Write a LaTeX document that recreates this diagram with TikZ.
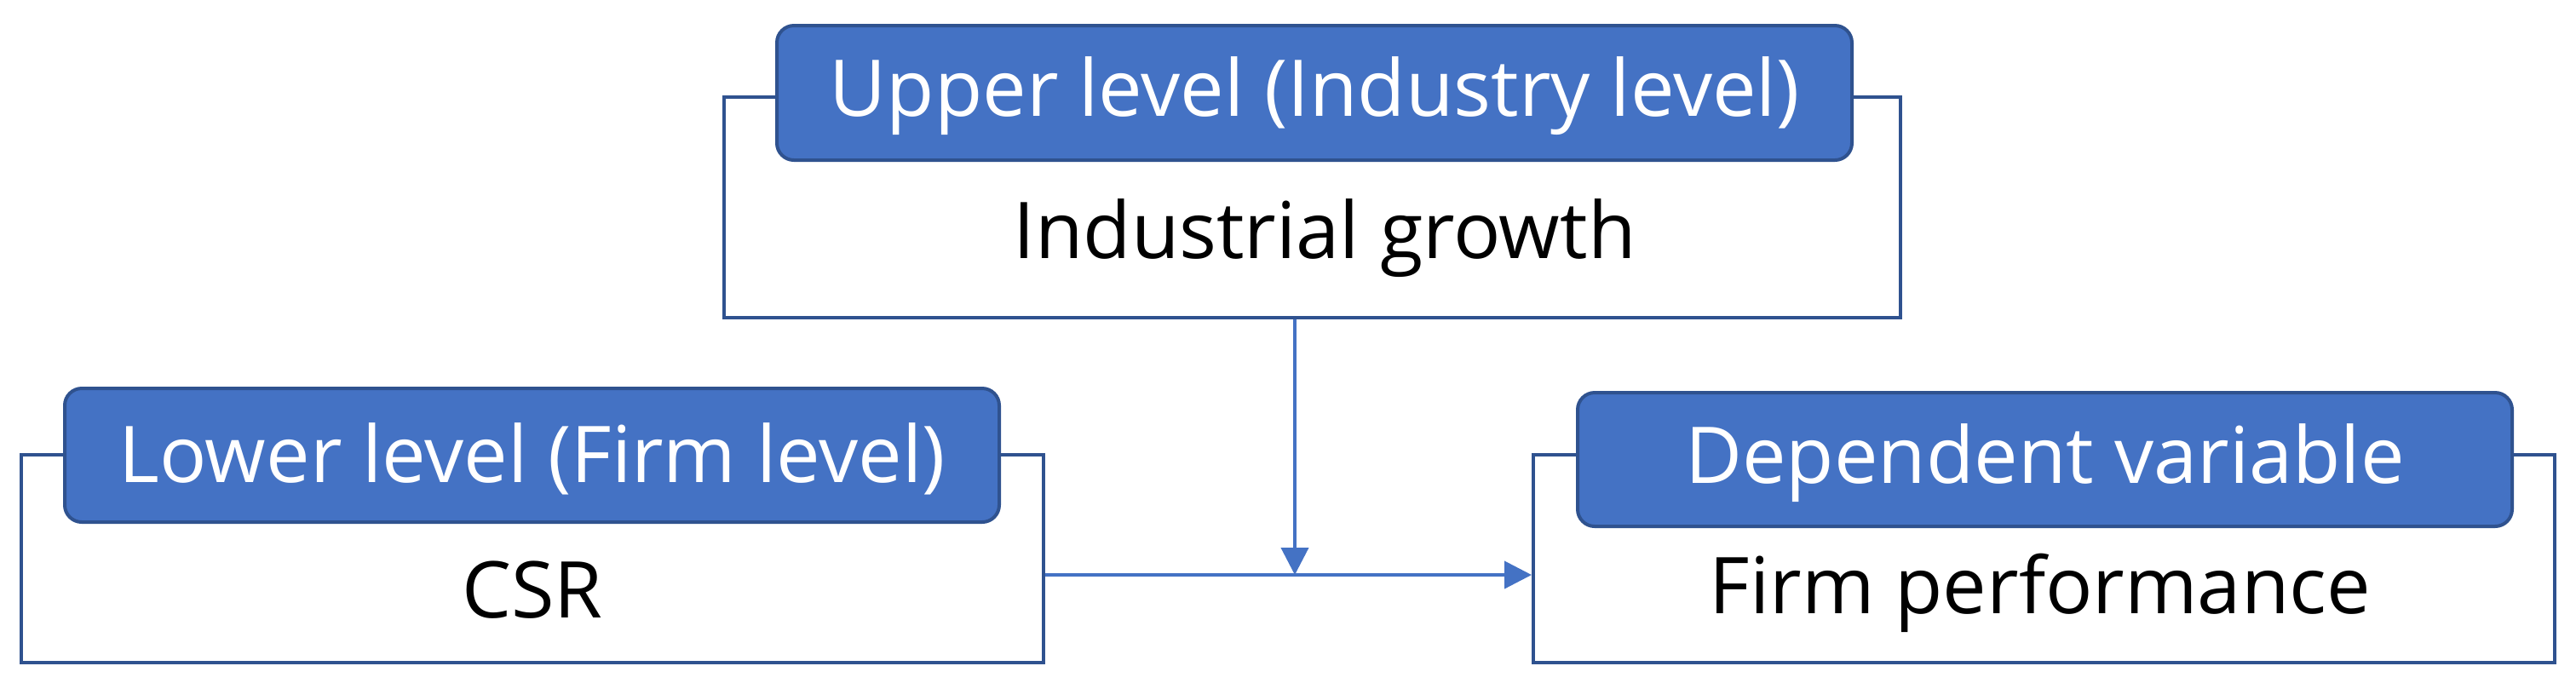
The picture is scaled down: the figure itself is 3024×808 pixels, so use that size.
\documentclass[tikz,border=0pt]{standalone}
\usepackage{fontspec}
\setmainfont{Open Sans}
\usetikzlibrary{fit,arrows.meta}
\definecolor{hdrblue}{HTML}{4472C4}
\definecolor{edgeblue}{HTML}{2F528F}
\tikzset{
  outerbox/.style={draw=edgeblue, line width=1pt, fill=white, inner sep=0pt},
  hdrbox/.style={draw=edgeblue, line width=1pt, fill=hdrblue, rounded corners=5pt, inner sep=0pt},
  hdrtext/.style={text=white, font=\fontsize{23}{27}\selectfont, inner sep=0pt},
  bodytext/.style={text=black, font=\fontsize{23}{27}\selectfont, inner sep=0pt},
  conn/.style={draw=hdrblue, line width=1pt, -{Triangle[length=8pt,width=8pt]}}
}
\begin{document}
\begin{tikzpicture}[x=0.25pt,y=-0.25pt]
\useasboundingbox (0,0) rectangle (3024,808);
% upper
\node[outerbox, fit={(850,114) (2231,373)}] (up) {};
\node[hdrbox, fit={(912,30) (2174,188)}] (uph) {};
\node[hdrtext] (upht) at ([yshift=-1pt]uph.center) {Upper level (Industry level)};
\node[bodytext] (upt) at (1555,280) {Industrial growth};
% lower left
\node[outerbox, fit={(25,534) (1225,778)}] (lo) {};
\node[hdrbox, fit={(76,456) (1173,613)}] (loh) {};
\node[hdrtext] (loht) at ([yshift=-1pt]loh.center) {Lower level (Firm level)};
\node[bodytext] (lot) at (625,693) {CSR};
% right
\node[outerbox, fit={(1800,534) (2999,778)}] (dv) {};
\node[hdrbox, fit={(1852,461) (2949,618)}] (dvh) {};
\node[hdrtext] (dvht) at ([yshift=-1pt]dvh.center) {Dependent variable};
\node[bodytext] (dvt) at (2395,696) {Firm performance};
% connectors
\coordinate (mid) at (1520,675);
\draw[conn] (lo.east |- mid) -- (dv.west |- mid);
\draw[conn] (up.south -| mid) -- (mid);
\end{tikzpicture}
\end{document}
